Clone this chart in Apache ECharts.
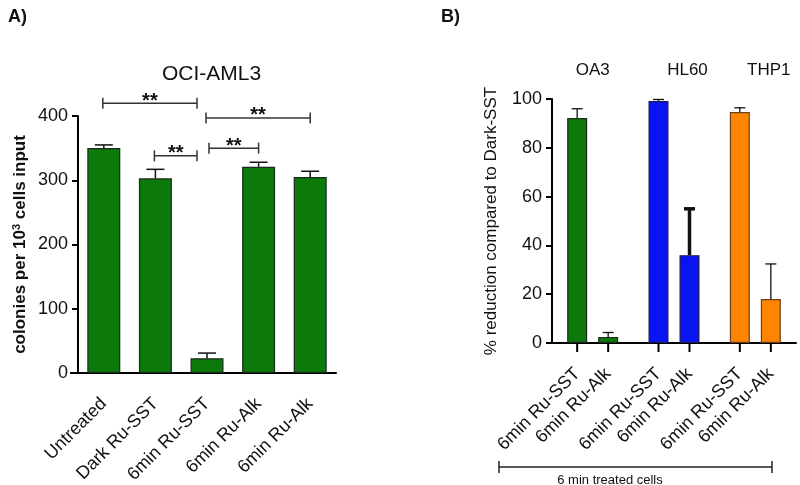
<!DOCTYPE html>
<html>
<head>
<meta charset="utf-8">
<script src="https://cdn.jsdelivr.net/npm/echarts@6/dist/echarts.min.js"></script>
<style>
  html, body { margin: 0; padding: 0; background: #fff; }
  #main { width: 800px; height: 485px; }
</style>
</head>
<body>
<div id="main"></div>
<script>
var FONT = 'Arial, "Liberation Sans", sans-serif';

// panel A - OCI-AML3 colony counts
var catsA = ['Untreated', 'Dark Ru-SST', '6min Ru-SST', '6min Ru-Alk', '6min Ru-Alk'];
var colonies = [350, 303, 23, 321, 305];
var coloniesUpper = [355, 317, 31, 328, 314];
var yTicksA = [0, 100, 200, 300, 400];

// significance brackets: from category, to category, height, text
var sigFrom = [0, 1, 2, 2];
var sigTo = [2, 2, 4, 3];
var sigY = [420, 338, 397, 350];
var sigText = ['**', '**', '**', '**'];

// panel B - % reduction compared to Dark-SST
var groupsB = ['OA3', 'HL60', 'THP1'];
var seriesB = ['6min Ru-SST', '6min Ru-Alk'];
var sstB = [92.2, 99.2, 94.7];
var sstUpperB = [96.0, 99.8, 96.4];
var alkB = [2.5, 36.0, 18.0];
var alkUpperB = [4.3, 55.0, 32.4];
var yTicksB = [0, 20, 40, 60, 80, 100];

var fillB = ['#0b7a0b', '#0a14f2', '#ff8400'];
var edgeB = ['#1b2b1b', '#1a1a55', '#6a4018'];
var BAR_W = 20, BAR_GAP = 11;

var myChart = echarts.init(document.getElementById('main'));

function axisY(grid, ticks, name, bold, gap) {
    return {
        type: 'value',
        gridIndex: grid,
        min: ticks[0],
        max: ticks[ticks.length - 1],
        interval: ticks[1] - ticks[0],
        splitLine: { show: false },
        axisLine: { show: true, lineStyle: { color: '#000', width: 2 } },
        axisTick: { show: true, length: 6, lineStyle: { color: '#000', width: 2 } },
        axisLabel: { fontSize: 18, color: '#111', fontFamily: FONT, margin: 10 },
        name: name,
        nameLocation: 'middle',
        nameGap: gap,
        nameTextStyle: {
            fontSize: 17,
            fontWeight: bold ? 'bold' : 'normal',
            color: '#111',
            fontFamily: FONT,
            rich: {
                sup: { fontSize: 11, fontWeight: 'bold', fontFamily: FONT, color: '#111', padding: [0, 0, 8, 0] }
            }
        }
    };
}

// upward error bar for one bar, optional tick under the axis
function errBar(offset, widthFn, cap, withTick) {
    return function (params, api) {
        var x = api.value(0);
        var base = api.coord([x, api.value(1)]);
        var top = api.coord([x, api.value(2)]);
        var zero = api.coord([x, 0]);
        var cx = base[0] + offset;
        var lw = widthFn(params.dataIndex);
        var kids = [
            { type: 'line', shape: { x1: cx, y1: base[1], x2: cx, y2: top[1] }, style: { stroke: '#111', lineWidth: lw } },
            { type: 'line', shape: { x1: cx - cap, y1: top[1], x2: cx + cap, y2: top[1] }, style: { stroke: '#111', lineWidth: lw } }
        ];
        if (withTick) {
            kids.push({ type: 'line', shape: { x1: cx, y1: zero[1], x2: cx, y2: zero[1] + 9 }, style: { stroke: '#000', lineWidth: 2 } });
        }
        return { type: 'group', children: kids };
    };
}

var half = (BAR_W + BAR_GAP) / 2;

var labelB = {
    show: true, position: 'bottom', distance: 28, rotate: 45,
    align: 'right', verticalAlign: 'middle',
    formatter: '{a}', fontSize: 18, color: '#111', fontFamily: FONT
};

myChart.setOption({
    backgroundColor: '#fff',
    animation: false,
    title: [
        { text: 'A)', left: 3, top: 3, textStyle: { fontSize: 18, fontWeight: 'bold', color: '#111', fontFamily: FONT } },
        { text: 'B)', left: 436, top: 3, textStyle: { fontSize: 18, fontWeight: 'bold', color: '#111', fontFamily: FONT } },
        { text: 'OCI-AML3', left: 157, top: 59, textStyle: { fontSize: 21, fontWeight: 'normal', color: '#111', fontFamily: FONT } }
    ],
    grid: [
        { left: 78, top: 116, width: 258, height: 257, outerBoundsMode: 'none' },
        { left: 552, top: 99, width: 244, height: 244, outerBoundsMode: 'none' }
    ],
    xAxis: [
        {
            type: 'category',
            gridIndex: 0,
            data: catsA,
            axisLine: { lineStyle: { color: '#000', width: 2 } },
            axisTick: { alignWithLabel: true, length: 9, lineStyle: { color: '#000', width: 2 } },
            axisLabel: { rotate: 45, fontSize: 18, color: '#111', fontFamily: FONT, margin: 28, interval: 0 }
        },
        {
            type: 'category',
            gridIndex: 1,
            data: groupsB,
            axisLine: { lineStyle: { color: '#000', width: 2 } },
            axisTick: { show: false },
            axisLabel: { show: false }
        },
        {
            type: 'category',
            gridIndex: 1,
            position: 'top',
            data: groupsB,
            axisLine: { show: false },
            axisTick: { show: false },
            axisLabel: {
                interval: 0, hideOverlap: false,
                fontSize: 17, color: '#111', fontFamily: FONT, margin: 20,
                formatter: function (v, i) { return i === 0 ? v : '{sp|}' + v; },
                rich: { sp: { width: 27 } }
            }
        }
    ],
    yAxis: [
        axisY(0, yTicksA, 'colonies per 10{sup|3} cells input', true, 48),
        axisY(1, yTicksB, '% reduction compared to Dark-SST', false, 52)
    ],
    graphic: [
        { type: 'line', shape: { x1: 70, y1: 373, x2: 78, y2: 373 }, style: { stroke: '#000', lineWidth: 2 } },
        { type: 'line', shape: { x1: 499, y1: 467, x2: 772, y2: 467 }, style: { stroke: '#222', lineWidth: 1.5 } },
        { type: 'line', shape: { x1: 499, y1: 461, x2: 499, y2: 473 }, style: { stroke: '#222', lineWidth: 1.5 } },
        { type: 'line', shape: { x1: 772, y1: 461, x2: 772, y2: 473 }, style: { stroke: '#222', lineWidth: 1.5 } },
        { type: 'text', x: 610, y: 480, style: { text: '6 min treated cells', font: '13px ' + FONT, fill: '#111', textAlign: 'center', textVerticalAlign: 'middle' } }
    ],
    series: [
        {
            type: 'bar',
            xAxisIndex: 0, yAxisIndex: 0,
            data: colonies,
            barWidth: 33,
            itemStyle: { color: '#0b7a0b', borderColor: '#1b2b1b', borderWidth: 1.2 }
        },
        {
            type: 'custom',
            xAxisIndex: 0, yAxisIndex: 0,
            clip: false,
            data: colonies.map(function (v, i) { return [i, v, coloniesUpper[i]]; }),
            encode: { x: 0, y: [1, 2] },
            renderItem: errBar(0, function () { return 1.5; }, 9, false),
            z: 3
        },
        {
            type: 'custom',
            xAxisIndex: 0, yAxisIndex: 0,
            clip: false,
            data: sigFrom.map(function (f, i) { return [f, sigTo[i], sigY[i]]; }),
            encode: { x: [0, 1], y: 2 },
            renderItem: function (params, api) {
                var from = api.value(0), to = api.value(1);
                var p1 = api.coord([from, api.value(2)]);
                var p2 = api.coord([to, api.value(2)]);
                var x1 = p1[0] - 1, x2 = p2[0], y = p1[1];
                // leave a gap where another bracket starts on the same bar
                if (to === 2) x2 -= 10;
                if (from === 2 && to === 3) x1 += 3;
                var st = { stroke: '#333', lineWidth: 1.5 };
                return {
                    type: 'group',
                    children: [
                        { type: 'line', shape: { x1: x1, y1: y, x2: x2, y2: y }, style: st },
                        { type: 'line', shape: { x1: x1, y1: y - 5.5, x2: x1, y2: y + 5.5 }, style: st },
                        { type: 'line', shape: { x1: x2, y1: y - 5.5, x2: x2, y2: y + 5.5 }, style: st },
                        {
                            type: 'text', x: (x1 + x2) / 2, y: y - 2,
                            style: { text: sigText[params.dataIndex], font: 'bold 20px ' + FONT, fill: '#111', textAlign: 'center', textVerticalAlign: 'middle' }
                        }
                    ]
                };
            }
        },
        {
            type: 'bar',
            name: seriesB[0],
            xAxisIndex: 1, yAxisIndex: 1,
            barWidth: BAR_W,
            barGap: (BAR_GAP / BAR_W * 100) + '%',
            data: sstB.map(function (v, i) {
                return { value: v, itemStyle: { color: fillB[i], borderColor: edgeB[i], borderWidth: 1.2 } };
            }),
            label: labelB
        },
        {
            type: 'bar',
            name: seriesB[1],
            xAxisIndex: 1, yAxisIndex: 1,
            barWidth: BAR_W,
            data: alkB.map(function (v, i) {
                return { value: v, itemStyle: { color: fillB[i], borderColor: edgeB[i], borderWidth: 1.2 } };
            }),
            label: labelB
        },
        {
            type: 'custom',
            xAxisIndex: 1, yAxisIndex: 1,
            clip: false,
            data: sstB.map(function (v, i) { return [i, v, sstUpperB[i]]; }),
            encode: { x: 0, y: [1, 2] },
            renderItem: errBar(-half, function () { return 1.3; }, 5.5, true),
            z: 3
        },
        {
            type: 'custom',
            xAxisIndex: 1, yAxisIndex: 1,
            clip: false,
            data: alkB.map(function (v, i) { return [i, v, alkUpperB[i]]; }),
            encode: { x: 0, y: [1, 2] },
            // HL60 error bar is drawn heavy in the original
            renderItem: errBar(half, function (i) { return i === 1 ? 3.5 : 1.3; }, 5.5, true),
            z: 3
        }
    ]
});
</script>
</body>
</html>
